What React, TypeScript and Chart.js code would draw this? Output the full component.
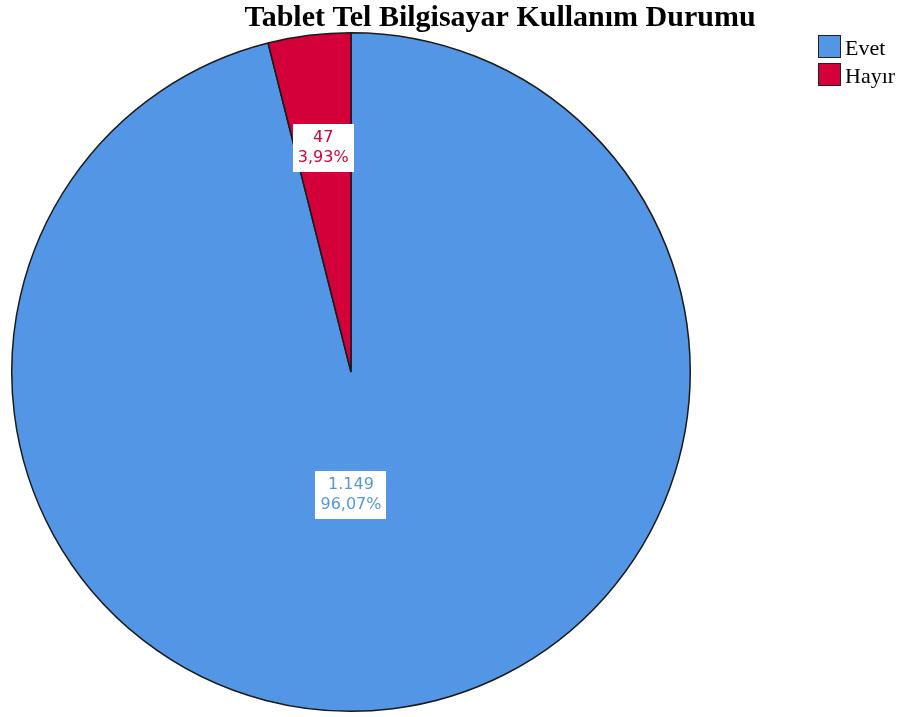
import React, { useEffect, useRef } from "react";
import { Chart, registerables } from "chart.js";

Chart.register(...registerables);

const categories = ["Evet", "Hayır"];
const counts = [1149, 47];
const countLabels = ["1.149", "47"];
const percentLabels = ["96,07%", "3,93%"];
const titleText = "Tablet Tel Bilgisayar Kullanım Durumu";

const colors = ["#5396E5", "#D3003A"];

const overlayPlugin = {
  id: "overlay",
  afterDatasetsDraw(chart: any) {
    const ctx = chart.ctx as CanvasRenderingContext2D;
    const meta = chart.getDatasetMeta(0);
    ctx.save();
    const placement = [
      { radius: 0.362, angle: Math.PI / 2 },
      { radius: 0.665, angle: null as number | null },
    ];
    meta.data.forEach((arc: any, i: number) => {
      const p = arc.getProps(["x", "y", "startAngle", "endAngle", "outerRadius"], true);
      const pl = placement[i];
      const a = pl.angle !== null ? pl.angle : (p.startAngle + p.endAngle) / 2;
      const r = p.outerRadius * pl.radius;
      const cx = p.x + Math.cos(a) * r;
      const cy = p.y + Math.sin(a) * r;
      ctx.font = "16px 'DejaVu Sans'";
      const l1 = countLabels[i];
      const l2 = percentLabels[i];
      const w = Math.max(ctx.measureText(l1).width, ctx.measureText(l2).width) + 10;
      const h = 48;
      ctx.fillStyle = "#ffffff";
      ctx.fillRect(Math.round(cx - w / 2), Math.round(cy - h / 2), Math.round(w), h);
      ctx.fillStyle = colors[i];
      ctx.textAlign = "center";
      ctx.textBaseline = "middle";
      ctx.fillText(l1, cx, cy - 10);
      ctx.fillText(l2, cx, cy + 10);
    });
    ctx.fillStyle = "#000000";
    ctx.font = "bold 30px 'Liberation Serif'";
    ctx.textAlign = "center";
    ctx.textBaseline = "alphabetic";
    ctx.fillText(titleText, 500, 26);
    ctx.font = "22px 'Liberation Serif'";
    ctx.textAlign = "left";
    categories.forEach((c, i) => {
      const y = 35 + i * 28;
      ctx.fillStyle = colors[i];
      ctx.fillRect(818, y, 23, 23);
      ctx.strokeStyle = "#222222";
      ctx.lineWidth = 1;
      ctx.strokeRect(818.5, y + 0.5, 22, 22);
      ctx.fillStyle = "#000000";
      ctx.fillText(c, 845, y + 20);
    });
    ctx.restore();
  },
};

export default function App() {
  const ref = useRef<HTMLCanvasElement>(null);
  useEffect(() => {
    if (!ref.current) return;
    const chart = new Chart(ref.current, {
      type: "pie",
      data: {
        labels: categories,
        datasets: [
          {
            data: counts,
            backgroundColor: colors,
            borderColor: "#1a1a1a",
            borderWidth: 1.5,
          },
        ],
      },
      options: {
        responsive: false,
        animation: false,
        layout: { padding: { left: 11, right: 212, top: 32, bottom: 5 } },
        plugins: {
          legend: { display: false },
          title: { display: false },
          tooltip: { enabled: false },
        },
      },
      plugins: [overlayPlugin],
    });
    return () => chart.destroy();
  }, []);
  return (
    <div style={{ position: "absolute", left: 0, top: 0, width: 903, height: 717, background: "#fff" }}>
      <canvas ref={ref} width={903} height={717} />
    </div>
  );
}
